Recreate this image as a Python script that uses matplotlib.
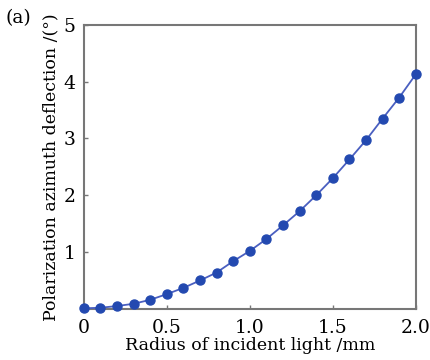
import matplotlib
matplotlib.use("Agg")
import matplotlib.pyplot as plt

# Radius (mm) vs polarization azimuth deflection (deg)
radius = [0.0, 0.1, 0.2, 0.3, 0.4, 0.5, 0.6, 0.7, 0.8, 0.9, 1.0,
          1.1, 1.2, 1.3, 1.4, 1.5, 1.6, 1.7, 1.8, 1.9, 2.0]
deflection = [0.01, 0.02, 0.05, 0.09, 0.16, 0.26, 0.37, 0.50, 0.64, 0.84, 1.02,
              1.23, 1.47, 1.72, 2.00, 2.30, 2.63, 2.97, 3.35, 3.72, 4.13]
xticks = [0, 0.5, 1.0, 1.5, 2.0]
xticklabels = ["0", "0.5", "1.0", "1.5", "2.0"]
yticks = [1, 2, 3, 4, 5]

plt.rcParams["font.family"] = "DejaVu Serif"

fig = plt.figure(figsize=(4.3, 3.6), dpi=100)
ax = fig.add_axes([0.195, 0.142, 0.772, 0.789])

ax.plot(radius, deflection, color="#4a5fc0", lw=1.3, marker="o", ms=6.5,
        mfc="#2349b0", mec="#2349b0", clip_on=False, zorder=3)

ax.set_xlim(0, 2.0)
ax.set_ylim(0, 5)
ax.set_xticks(xticks)
ax.set_xticklabels(xticklabels)
ax.set_yticks(yticks)
ax.tick_params(direction="in", length=3, width=1, color="#777777",
               labelsize=13.5, pad=6)
ax.tick_params(axis="x", pad=7)
for s in ax.spines.values():
    s.set_color("#777777")
    s.set_linewidth(1.5)

ax.set_xlabel("Radius of incident light /mm", fontsize=12.5, labelpad=0)
ax.set_ylabel("Polarization azimuth deflection /(°)", fontsize=12.5, labelpad=3)
fig.text(0.012, 0.95, "(a)", fontsize=13.5, va="center", ha="left")

fig.savefig("out.png", dpi=100)
